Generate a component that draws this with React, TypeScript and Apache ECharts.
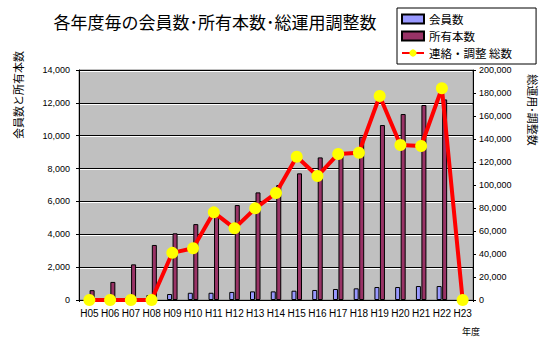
import React, { useEffect, useRef } from "react";
import * as echarts from "echarts";

const categories = ["H05","H06","H07","H08","H09","H10","H11","H12","H13","H14","H15","H16","H17","H18","H19","H20","H21","H22","H23"];
const members = [80, 100, 180, 300, 365, 440, 440, 490, 525, 525, 565, 610, 670, 710, 790, 790, 850, 850, null];
const owned = [600, 1100, 2170, 3350, 4060, 4620, 5100, 5780, 6550, 7000, 7710, 8680, 8900, 9940, 10650, 11320, 11870, 12210, null];
const adjustments = [0, 0, 0, 0, 41000, 45000, 76200, 62300, 79700, 93000, 124600, 107800, 127000, 128100, 177400, 134800, 133900, 184100, 0];
const leftTicksMax = 14000;
const rightTicksMax = 200000;

const FONT = "'Noto Sans CJK JP', sans-serif";
const NUMFONT = "'Liberation Sans', Arial, sans-serif";

export default function App() {
  const ref = useRef<HTMLDivElement>(null);
  useEffect(() => {
    const chart = echarts.init(ref.current!, null, { renderer: "svg" });
    chart.setOption({
      animation: false,
      backgroundColor: "#ffffff",
      title: {
        text: "各年度毎の会員数･所有本数･総運用調整数",
        left: 210,
        top: 8,
        textAlign: "center",
        textStyle: { fontFamily: FONT, fontSize: 17, fontWeight: "normal", color: "#000" },
      },
      legend: {
        orient: "vertical",
        left: 397,
        top: 8,
        padding: [5, 24, 5, 4],
        itemGap: 5,
        itemWidth: 22,
        itemHeight: 9,
        borderColor: "#000",
        borderWidth: 1,
        backgroundColor: "#fff",
        textStyle: { fontFamily: FONT, fontSize: 11.5, lineHeight: 12, color: "#000" },
        data: [
          { name: "会員数", icon: "rect" },
          { name: "所有本数", icon: "rect" },
          { name: "連絡・調整 総数" },
        ],
      },
      grid: [
        {
          left: 79,
          right: 87,
          top: 70,
          bottom: 43,
          show: true,
          backgroundColor: "#c0c0c0",
          borderColor: "#808080",
          borderWidth: 1,
        },
        {
          left: 80,
          right: 88,
          top: 71,
          bottom: 42,
          show: false,
        },
      ],
      xAxis: [
        {
          type: "category",
          data: categories,
          gridIndex: 0,
          axisLine: { lineStyle: { color: "#000", width: 1 } },
          axisTick: { show: true, length: 2, lineStyle: { color: "#000" } },
          axisLabel: { fontFamily: NUMFONT, fontSize: 10, color: "#000", margin: 8, interval: 0 },
        },
        {
          type: "category",
          data: categories,
          gridIndex: 1,
          show: false,
        },
      ],
      yAxis: [
        {
          type: "value",
          gridIndex: 0,
          min: 0,
          max: leftTicksMax,
          interval: 2000,
          axisLine: { show: true, lineStyle: { color: "#000" } },
          axisTick: { show: true, length: 3, lineStyle: { color: "#000" } },
          axisLabel: {
            fontFamily: NUMFONT,
            fontSize: 9,
            color: "#000",
            margin: 9,
            formatter: (v: number) => v.toLocaleString("en-US"),
          },
          splitLine: { show: true, lineStyle: { color: "#000", width: 1 } },
          z: 3,
        },
        {
          type: "value",
          gridIndex: 0,
          min: 0,
          max: rightTicksMax,
          interval: 20000,
          position: "right",
          axisLine: { show: true, lineStyle: { color: "#000" } },
          axisTick: { show: true, length: 3, lineStyle: { color: "#000" } },
          axisLabel: { fontFamily: NUMFONT, fontSize: 9, color: "#000", margin: 6 },
          splitLine: { show: false },
        },
        {
          type: "value",
          gridIndex: 1,
          min: 0,
          max: leftTicksMax,
          interval: 2000,
          axisLine: { show: false },
          axisTick: { show: false },
          axisLabel: { show: false },
          splitLine: { show: true, lineStyle: { color: "#ffffff", width: 1 } },
          z: 1,
        },
      ],
      series: [
        {
          name: "会員数",
          type: "bar",
          data: members,
          barWidth: 5,
          barGap: "10%",
          z: 4,
          itemStyle: { color: "#9999ff", borderColor: "#000", borderWidth: 1 },
        },
        {
          name: "所有本数",
          type: "bar",
          data: owned,
          barWidth: 5,
          z: 4,
          itemStyle: { color: "#993366", borderColor: "#000", borderWidth: 1 },
        },
        {
          name: "連絡・調整 総数",
          type: "line",
          yAxisIndex: 1,
          data: adjustments,
          symbol: "circle",
          symbolSize: 12,
          z: 6,
          lineStyle: { color: "#ff0000", width: 4 },
          itemStyle: { color: "#ffff00", borderWidth: 0 },
        },
      ],
      graphic: [
        {
          type: "text",
          x: 18,
          y: 95,
          rotation: Math.PI / 2,
          style: {
            text: "会員数と所有本数",
            fontFamily: FONT,
            fontSize: 11,
            fill: "#000",
            align: "center",
            verticalAlign: "middle",
          },
        },
        {
          type: "text",
          x: 533,
          y: 110,
          rotation: -Math.PI / 2,
          style: {
            text: "総運用･調整数",
            fontFamily: FONT,
            fontSize: 11,
            fill: "#000",
            align: "center",
            verticalAlign: "middle",
          },
        },
        {
          type: "text",
          x: 471,
          y: 331,
          style: {
            text: "年度",
            fontFamily: FONT,
            fontSize: 9,
            fill: "#000",
            align: "center",
            verticalAlign: "middle",
          },
        },
      ],
    });
    return () => chart.dispose();
  }, []);
  return (
    <div
      ref={ref}
      style={{ position: "fixed", left: 0, top: 0, width: 560, height: 343 }}
    />
  );
}
